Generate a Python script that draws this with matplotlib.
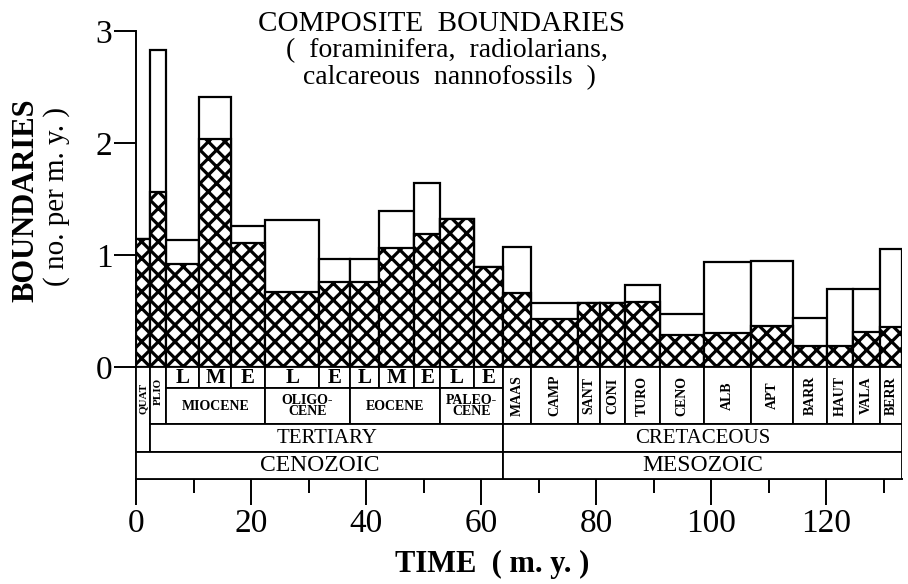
import numpy as np
import matplotlib
matplotlib.use("Agg")
import matplotlib.pyplot as plt
from matplotlib.patches import Rectangle

# bar edges along time axis (m.y.)
edges = [0, 2.4, 5.3, 11.0, 16.5, 22.4, 31.9, 37.2, 42.3, 48.4, 52.9, 58.7,
         63.9, 68.7, 76.9, 80.7, 85.0, 91.1, 98.8, 106.9, 114.3, 120.1,
         124.7, 129.4, 133.2]
# composite boundaries (open bar = total, hatched = part)
totals = [1.14, 2.83, 1.13, 2.41, 1.26, 1.31, 0.96, 0.96, 1.39, 1.64, 1.32,
          0.89, 1.07, 0.57, 0.57, 0.57, 0.73, 0.47, 0.94, 0.95, 0.44, 0.70,
          0.70, 1.05]
hatched = [1.14, 1.56, 0.92, 2.04, 1.11, 0.67, 0.755, 0.755, 1.06, 1.19,
           1.32, 0.89, 0.66, 0.43, 0.57, 0.57, 0.58, 0.29, 0.30, 0.37, 0.19,
           0.19, 0.31, 0.36]

# time scale
substages = ["L", "M", "E", "L", "E", "L", "M", "E", "L", "E"]
epochs = ["MIOCENE", "OLIGO-\nCENE", "EOCENE", "PALEO-\nCENE"]
epoch_edges = [5.3, 22.4, 37.2, 52.9, 63.9]
cret_stages = ["MAAS", "CAMP", "SANT", "CONI", "TURO", "CENO", "ALB", "APT",
               "BARR", "HAUT", "VALA", "BERR"]
periods = ["TERTIARY", "CRETACEOUS"]
period_edges = [2.4, 63.9, 133.2]
eras = ["CENOZOIC", "MESOZOIC"]
era_edges = [0, 63.9, 133.2]

plt.rcParams["font.family"] = ["Liberation Serif", "DejaVu Serif"]
plt.rcParams["hatch.linewidth"] = 2.3

W, H = 908, 584
fig = plt.figure(figsize=(W / 100, H / 100), dpi=100)
ax = fig.add_axes([136 / W, 1 - 479 / H, 766 / W, 448 / H])
ax.set_xlim(0, 133.2)
ax.set_ylim(-1.0, 3.0)

left = np.array(edges[:-1])
width = np.diff(edges)
ax.bar(left, totals, width=width, align="edge", color="white",
       edgecolor="black", linewidth=1.6, zorder=2)
ax.bar(left, hatched, width=width, align="edge", color="white",
       edgecolor="black", hatch="xx", linewidth=1.6, zorder=3)

# rows of the time scale band (in y units)
r0, r1, r2, r3, r4 = 0.0, -0.19, -0.51, -0.76, -1.0
box = dict(facecolor="white", edgecolor="black", linewidth=1.3, zorder=4)


def cell(x0, x1, y0, y1, text=None, size=12, rot=0, weight="normal"):
    ax.add_patch(Rectangle((x0, y1), x1 - x0, y0 - y1, **box))
    if text:
        ax.text((x0 + x1) / 2, (y0 + y1) / 2, text, ha="center", va="center",
                fontsize=size, rotation=rot, weight=weight, zorder=5,
                linespacing=0.85)


# quaternary + pliocene
cell(edges[0], edges[1], r0, r3, None)
ax.text((edges[0] + edges[1]) / 2, -0.28, "QUAT", rotation=90, ha="center",
        va="center", fontsize=8, weight="bold", zorder=5)
cell(edges[1], edges[2], r0, r2, None)
ax.text((edges[1] + edges[2]) / 2, -0.22, "PLIO", rotation=90, ha="center",
        va="center", fontsize=8, weight="bold", zorder=5)
for i, s in enumerate(substages):
    cell(edges[2 + i], edges[3 + i], r0, r1, s, size=15, weight="bold")
for i, s in enumerate(epochs):
    cell(epoch_edges[i], epoch_edges[i + 1], r1, r2, s, size=10,
         weight="bold")
for i, s in enumerate(cret_stages):
    cell(edges[12 + i], edges[13 + i], r0, r2, s, size=10, rot=90,
         weight="bold")
for i, s in enumerate(periods):
    cell(period_edges[i], period_edges[i + 1], r2, r3, s, size=15)
for i, s in enumerate(eras):
    cell(era_edges[i], era_edges[i + 1], r3, r4, s, size=17)

# axes
for side in ["top", "right"]:
    ax.spines[side].set_visible(False)
ax.spines["left"].set_linewidth(1.4)
ax.spines["bottom"].set_linewidth(1.4)
ax.set_yticks([0, 1, 2, 3])
ax.set_yticklabels(["0", "1", "2", "3"])
ax.tick_params(axis="y", length=16, width=1.4, labelsize=24, pad=1)
ax.set_xticks(np.arange(0, 121, 20))
ax.set_xticks(np.arange(10, 131, 20), minor=True)
ax.tick_params(axis="x", which="major", length=19, width=1.4, labelsize=24,
               pad=2)
ax.tick_params(axis="x", which="minor", length=10, width=1.4)

fig.text(26 / W, 1 - 200 / H, "BOUNDARIES", rotation=90, ha="center",
         va="center", fontsize=22, weight="bold")
fig.text(57 / W, 1 - 196 / H, "( no. per m. y. )", rotation=90, ha="center",
         va="center", fontsize=21)
fig.text(492 / W, 1 - 564 / H, "TIME  ( m. y. )", ha="center", va="center",
         fontsize=22, weight="bold")

fig.text(442 / W, 1 - 24 / H, "COMPOSITE  BOUNDARIES", ha="center",
         va="center", fontsize=21)
fig.text(447 / W, 1 - 51 / H, "(  foraminifera,  radiolarians,", ha="center",
         va="center", fontsize=20)
fig.text(449 / W, 1 - 78 / H, "calcareous  nannofossils  )", ha="center",
         va="center", fontsize=20)

fig.savefig("out.png", dpi=100)
